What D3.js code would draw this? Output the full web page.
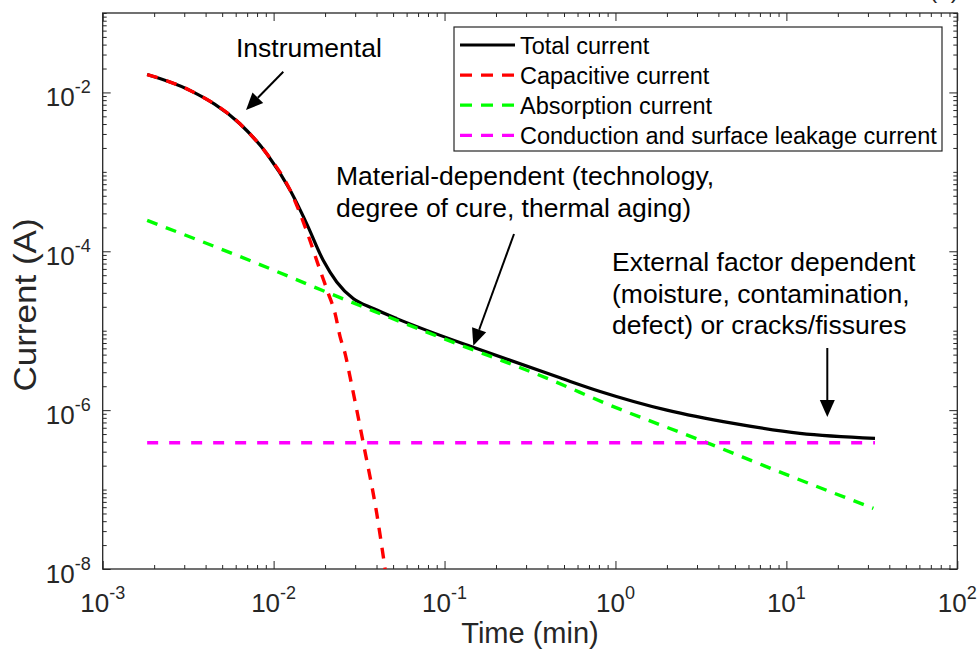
<!DOCTYPE html>
<html>
<head>
<meta charset="utf-8">
<script src="https://cdn.jsdelivr.net/npm/d3@7"></script>
<style>
  html, body { margin: 0; padding: 0; background: #fff; }
  svg { display: block; font-family: "Liberation Sans", Arial, sans-serif; }
</style>
</head>
<body>
<svg id="chart" width="980" height="657"></svg>
<script>
// Time axis in minutes, current in amperes (log–log)
const totalTime = [1.82e-3, 3.24e-3, 6.35e-3, 9.12e-3, 1.25e-2, 1.56e-2, 1.95e-2, 2.34e-2, 2.92e-2, 3.83e-2, 5.25e-2, 7.87e-2, 0.147, 0.474, 0.813, 2.0, 4.9, 12.0, 33.0];
const totalCurrent = [1.68e-2, 1.06e-2, 4.03e-3, 1.69e-3, 5.85e-4, 2.23e-4, 7.71e-5, 4.11e-5, 2.54e-5, 1.90e-5, 1.42e-5, 1.01e-5, 6.2e-6, 2.55e-6, 1.72e-6, 1.0e-6, 6.81e-7, 5.09e-7, 4.41e-7];

const capTime = [1.82e-3, 3.24e-3, 6.35e-3, 9.12e-3, 1.25e-2, 1.53e-2, 1.87e-2, 2.09e-2, 2.29e-2, 2.45e-2, 2.62e-2, 2.80e-2, 3.35e-2, 4.01e-2, 4.49e-2];
const capCurrent = [1.68e-2, 1.06e-2, 4.03e-3, 1.69e-3, 5.85e-4, 2.02e-4, 5.77e-5, 2.94e-5, 1.64e-5, 8.36e-6, 5.16e-6, 2.62e-6, 3.81e-7, 5.02e-8, 1.0e-8];

const absTime = [1.82e-3, 8.32e-3, 2.05e-2, 7.87e-2, 0.434, 0.889, 3.13, 9.6, 32.3];
const absCurrent = [2.45e-4, 6.8e-5, 3.05e-5, 9.6e-6, 2.33e-6, 1.2e-6, 4.2e-7, 1.6e-7, 5.8e-8];

const condTime = [1.82e-3, 0.1, 33.0];
const condCurrent = [3.88e-7, 3.88e-7, 3.88e-7];

const xMajorTicks = [1e-3, 1e-2, 1e-1, 1e0, 1e1, 1e2];
const xTickExponents = ["-3", "-2", "-1", "0", "1", "2"];
const yMajorTicks = [1e-8, 1e-6, 1e-4, 1e-2];
const yTickExponents = ["-8", "-6", "-4", "-2"];

const seriesNames = ["Total current", "Capacitive current", "Absorption current", "Conduction and surface leakage current"];
const seriesColors = ["#000000", "#ff0000", "#00ff00", "#ff00ff"];

const svg = d3.select("#chart");
const axisColor = "#262626";
const plot = { left: 102.7, right: 957.3, top: 13, bottom: 569 };

const x = d3.scaleLog().domain([1e-3, 1e2]).range([plot.left, plot.right]);
const y = d3.scaleLog().domain([1e-8, 1e-1]).range([plot.bottom, plot.top]);

// minor ticks: 2..9 x each decade, plus undecorated decades
function minorTicks(lo, hi, majors) {
  const out = [];
  for (let e = lo; e < hi; e++) {
    for (let k = 1; k <= 9; k++) out.push(k * Math.pow(10, e));
  }
  out.push(Math.pow(10, hi));
  return out.filter(v => !majors.some(m => Math.abs(m - v) / v < 1e-9));
}
const xMinor = minorTicks(-3, 2, xMajorTicks);
const yMinor = minorTicks(-8, -1, yMajorTicks);

svg.append("defs").append("clipPath").attr("id", "plotClip")
  .append("rect")
  .attr("x", plot.left).attr("y", plot.top)
  .attr("width", plot.right - plot.left).attr("height", plot.bottom - plot.top);

// axes tick marks (inward, mirrored on all four sides)
function drawTicks(axisFn, scale, values, size, transform) {
  const g = svg.append("g").attr("transform", transform)
    .call(axisFn(scale).tickValues(values).tickSize(size).tickFormat(""));
  g.select(".domain").remove();
  g.selectAll(".tick line").attr("stroke", axisColor).attr("stroke-width", 1);
  return g;
}
drawTicks(d3.axisBottom, x, xMajorTicks, -8, `translate(0,${plot.bottom})`);
drawTicks(d3.axisBottom, x, xMinor, -4, `translate(0,${plot.bottom})`);
drawTicks(d3.axisTop, x, xMajorTicks, -8, `translate(0,${plot.top})`);
drawTicks(d3.axisTop, x, xMinor, -4, `translate(0,${plot.top})`);
drawTicks(d3.axisLeft, y, yMajorTicks, -8, `translate(${plot.left},0)`);
drawTicks(d3.axisLeft, y, yMinor, -4, `translate(${plot.left},0)`);
drawTicks(d3.axisRight, y, yMajorTicks, -8, `translate(${plot.right},0)`);
drawTicks(d3.axisRight, y, yMinor, -4, `translate(${plot.right},0)`);

// axes box
svg.append("rect")
  .attr("x", plot.left).attr("y", plot.top)
  .attr("width", plot.right - plot.left).attr("height", plot.bottom - plot.top)
  .attr("fill", "none").attr("stroke", axisColor).attr("stroke-width", 1.3);

// tick labels as 10^n
xMajorTicks.forEach((v, i) => {
  const t = svg.append("text")
    .attr("x", x(v)).attr("y", plot.bottom + 43)
    .attr("text-anchor", "middle").attr("fill", axisColor).attr("font-size", 26);
  t.append("tspan").text("10");
  t.append("tspan").attr("dy", -13).attr("font-size", 18).text(xTickExponents[i]);
});
yMajorTicks.forEach((v, i) => {
  const t = svg.append("text")
    .attr("x", plot.left - 12).attr("y", y(v) + 14)
    .attr("text-anchor", "end").attr("fill", axisColor).attr("font-size", 26);
  t.append("tspan").text("10");
  t.append("tspan").attr("dy", -13).attr("font-size", 18).text(yTickExponents[i]);
});

// axis titles
svg.append("text")
  .attr("x", (plot.left + plot.right) / 2).attr("y", 643)
  .attr("text-anchor", "middle").attr("fill", axisColor).attr("font-size", 29)
  .text("Time (min)");
svg.append("text")
  .attr("transform", "translate(36,305) rotate(-90) scale(1.13,1)")
  .attr("text-anchor", "middle").attr("fill", axisColor).attr("font-size", 31)
  .text("Current (A)");

// panel tag, mostly above the canvas edge
svg.append("text")
  .attr("x", 944).attr("y", -2)
  .attr("text-anchor", "middle").attr("fill", axisColor).attr("font-size", 24)
  .text("(a)");

// curves
const line = d3.line()
  .x(d => x(d[0])).y(d => y(d[1]))
  .curve(d3.curveMonotoneX);
const curves = svg.append("g").attr("clip-path", "url(#plotClip)");

const series = [
  { t: totalTime, i: totalCurrent, dash: null },
  { t: capTime, i: capCurrent, dash: "11,9" },
  { t: absTime, i: absCurrent, dash: "11,9" },
  { t: condTime, i: condCurrent, dash: "11,11" }
];
series.forEach((s, k) => {
  curves.append("path")
    .datum(d3.zip(s.t, s.i))
    .attr("d", line)
    .attr("fill", "none")
    .attr("stroke", seriesColors[k])
    .attr("stroke-width", k === 0 ? 3.2 : 3.4)
    .attr("stroke-dasharray", s.dash);
});

// legend
const legend = svg.append("g");
legend.append("rect")
  .attr("x", 454).attr("y", 27).attr("width", 488).attr("height", 124)
  .attr("fill", "#fff").attr("stroke", axisColor).attr("stroke-width", 1.2);
seriesNames.forEach((name, k) => {
  const cy = 45 + k * 30.1;
  legend.append("line")
    .attr("x1", 460).attr("x2", 515).attr("y1", cy).attr("y2", cy)
    .attr("stroke", seriesColors[k]).attr("stroke-width", 3.2)
    .attr("stroke-dasharray", k === 0 ? null : "12,9");
  legend.append("text")
    .attr("x", 520).attr("y", cy + 8.5)
    .attr("fill", "#000").attr("font-size", 23.5)
    .text(name);
});

// annotations with arrows
function arrow(x1, y1, x2, y2) {
  const ang = Math.atan2(y2 - y1, x2 - x1);
  const headLen = 17, headHalf = 7.5;
  const bx = x2 - headLen * Math.cos(ang), by = y2 - headLen * Math.sin(ang);
  svg.append("line")
    .attr("x1", x1).attr("y1", y1).attr("x2", bx).attr("y2", by)
    .attr("stroke", "#000").attr("stroke-width", 2);
  const px = -Math.sin(ang) * headHalf, py = Math.cos(ang) * headHalf;
  svg.append("path")
    .attr("d", `M${x2},${y2}L${bx + px},${by + py}L${bx - px},${by - py}Z`)
    .attr("fill", "#000");
}
function note(lines, x0, y0, lh) {
  const t = svg.append("text").attr("fill", "#000").attr("font-size", 26.5);
  lines.forEach((s, k) => {
    t.append("tspan").attr("x", x0).attr("y", y0 + k * lh).text(s);
  });
}
note(["Instrumental"], 236, 57, 0);
arrow(283.3, 71.7, 246, 110);
note(["Material-dependent (technology,", "degree of cure, thermal aging)"], 336, 185, 31.5);
arrow(514, 234, 473.3, 345.7);
note(["External factor dependent", "(moisture, contamination,", "defect) or cracks/fissures"], 612, 271, 31.5);
arrow(827.3, 348, 827.3, 417);
</script>
</body>
</html>
